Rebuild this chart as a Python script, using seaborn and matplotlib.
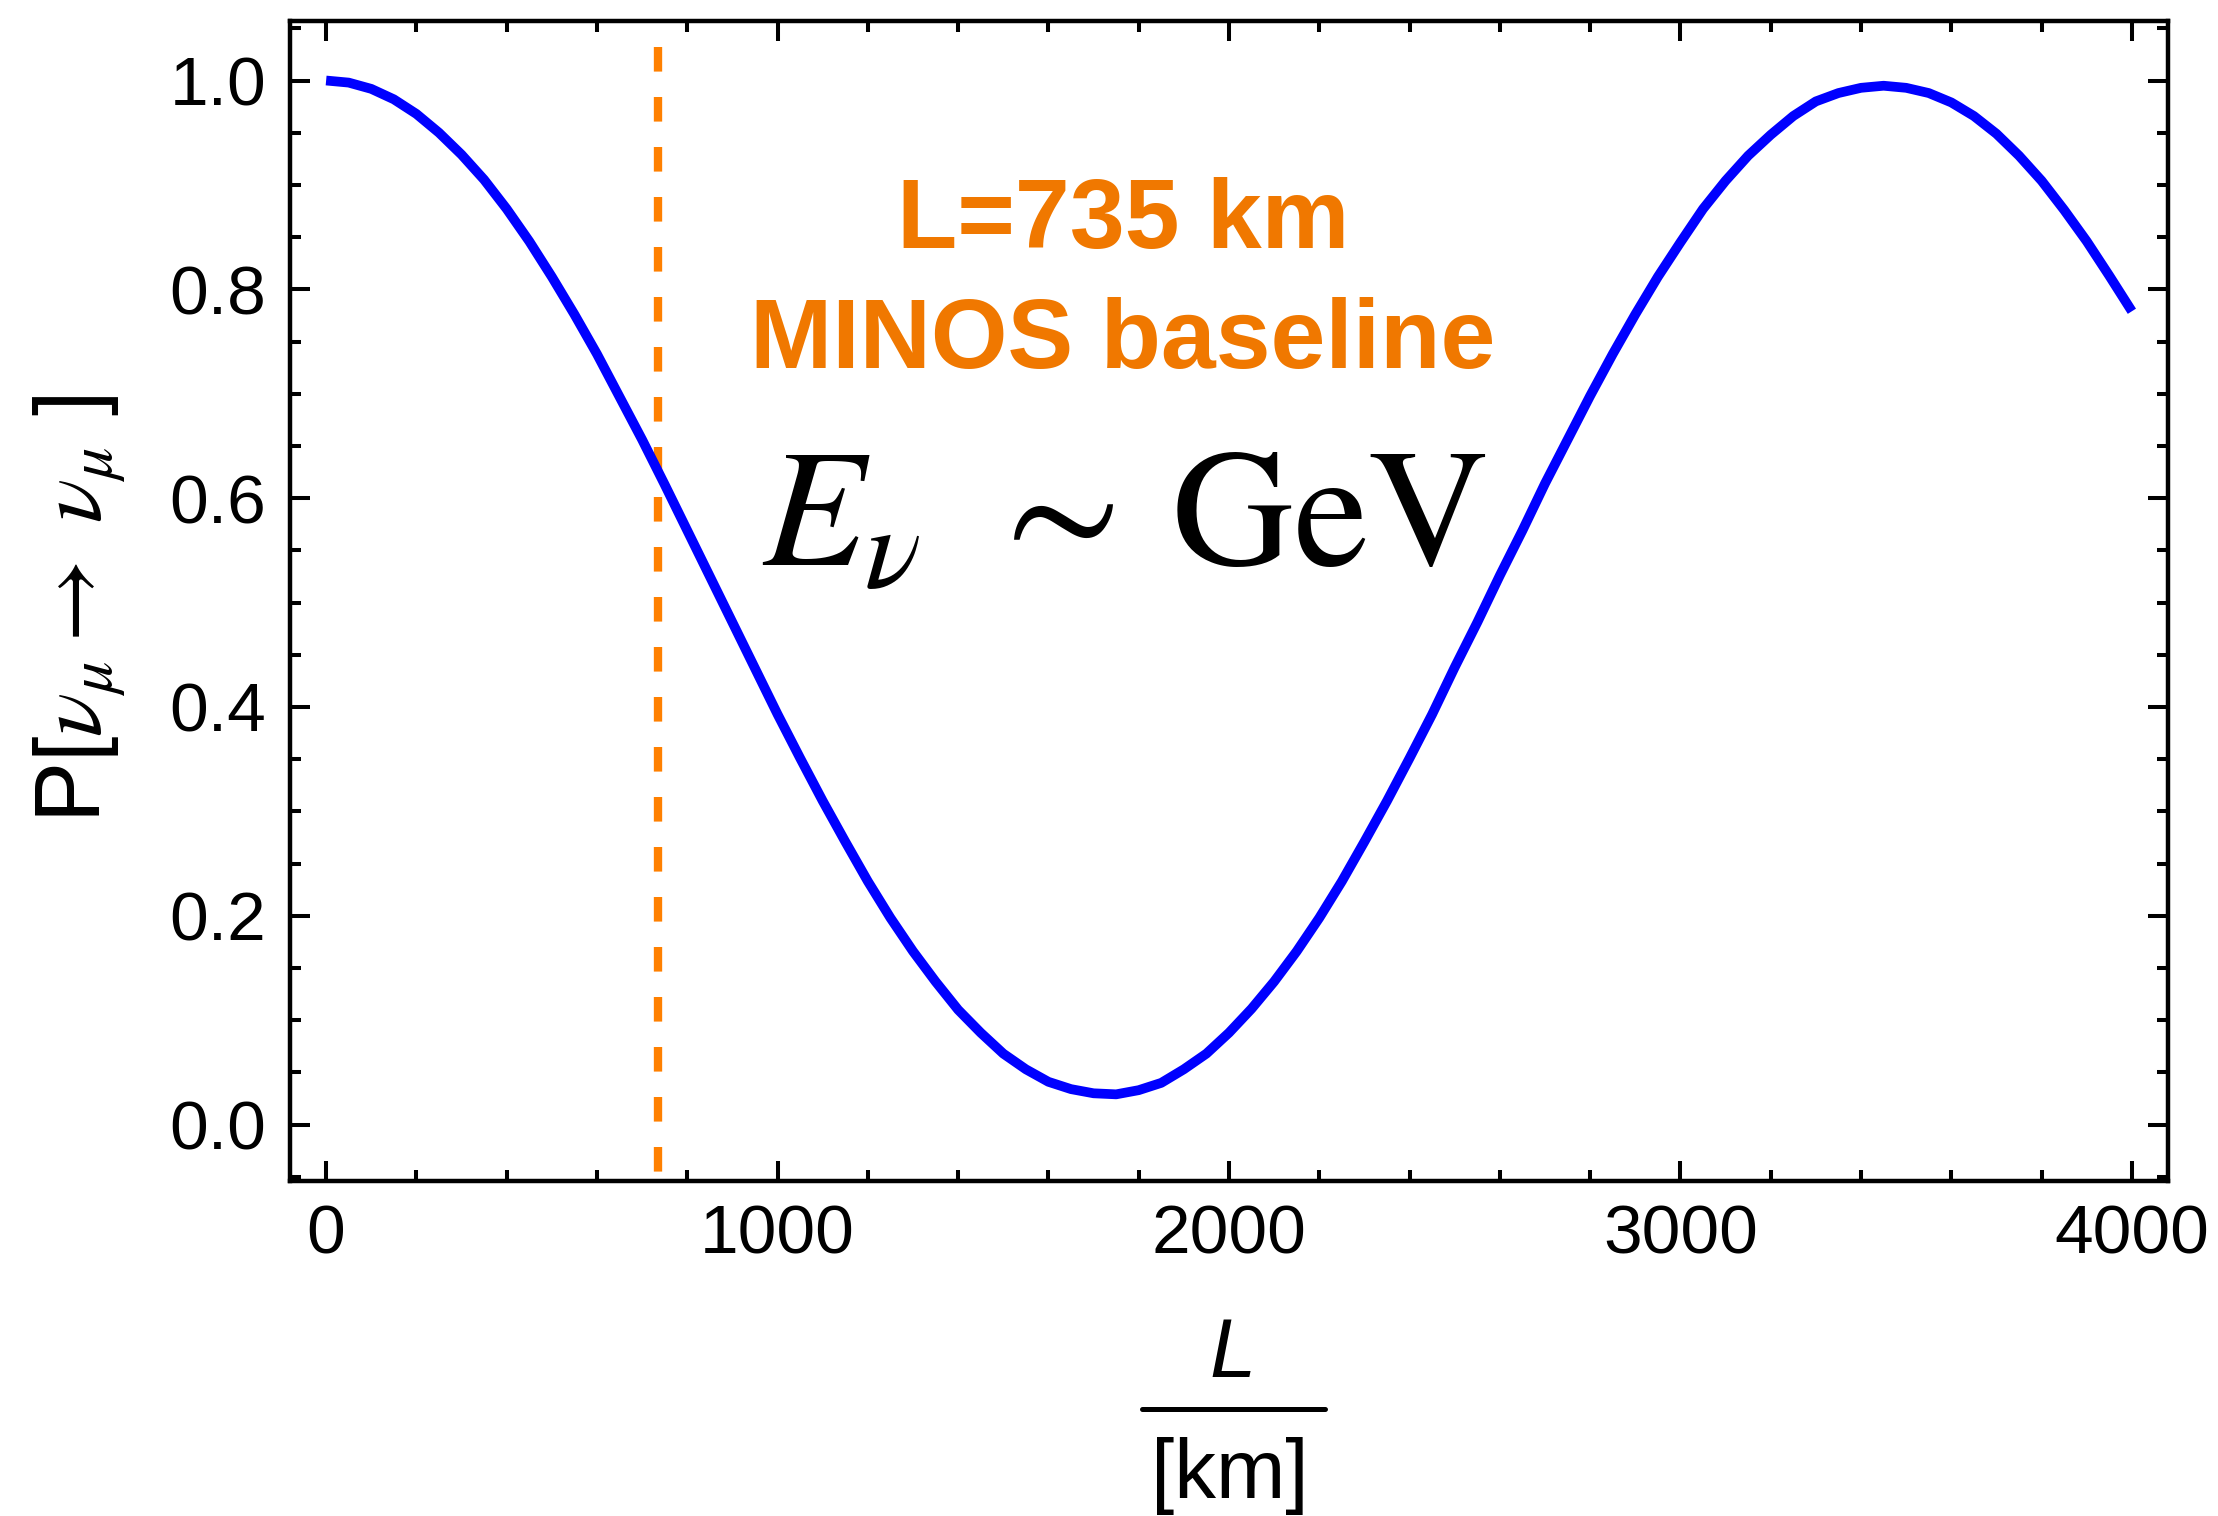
import numpy as np
import pandas as pd
import matplotlib
matplotlib.use("Agg")
import matplotlib.pyplot as plt
import seaborn as sns
from matplotlib.ticker import MultipleLocator
from matplotlib.lines import Line2D

# ---------------- data ----------------
baseline_km = [0, 50, 100, 150, 200, 250, 300, 350, 400, 450,
               500, 550, 600, 650, 700, 750, 800, 850, 900, 950,
               1000, 1050, 1100, 1150, 1200, 1250, 1300, 1350, 1400, 1450,
               1500, 1550, 1600, 1650, 1700, 1750, 1800, 1850, 1900, 1950,
               2000, 2050, 2100, 2150, 2200, 2250, 2300, 2350, 2400, 2450,
               2500, 2550, 2600, 2650, 2700, 2750, 2800, 2850, 2900, 2950,
               3000, 3050, 3100, 3150, 3200, 3250, 3300, 3350, 3400, 3450,
               3500, 3550, 3600, 3650, 3700, 3750, 3800, 3850, 3900, 3950, 4000]
survival_prob = [1.000, 0.998, 0.992, 0.982, 0.968, 0.950, 0.929, 0.905, 0.877, 0.846,
                 0.812, 0.776, 0.738, 0.697, 0.656, 0.613, 0.569, 0.525, 0.481, 0.437,
                 0.393, 0.351, 0.310, 0.271, 0.233, 0.198, 0.166, 0.137, 0.110, 0.088,
                 0.068, 0.053, 0.041, 0.034, 0.030, 0.029, 0.033, 0.040, 0.053, 0.068,
                 0.088, 0.111, 0.137, 0.166, 0.198, 0.233, 0.271, 0.310, 0.351, 0.393,
                 0.438, 0.481, 0.526, 0.569, 0.614, 0.656, 0.698, 0.738, 0.776, 0.812,
                 0.845, 0.877, 0.904, 0.928, 0.948, 0.966, 0.980, 0.988, 0.993, 0.995,
                 0.993, 0.988, 0.979, 0.966, 0.949, 0.928, 0.904, 0.876, 0.846, 0.813, 0.779]
minos_baseline = [735, 735]
minos_line_y = [1.032, -0.06]

x_major_ticks = [0, 1000, 2000, 3000, 4000]
x_tick_labels = ["0", "1000", "2000", "3000", "4000"]
y_major_ticks = [0.0, 0.2, 0.4, 0.6, 0.8, 1.0]
y_tick_labels = ["0.0", "0.2", "0.4", "0.6", "0.8", "1.0"]

df = pd.DataFrame({"L": baseline_km, "P": survival_prob})
df_minos = pd.DataFrame({"L": minos_baseline, "P": minos_line_y})

# ---------------- style ----------------
sns.set_theme(style="ticks")
plt.rcParams["font.family"] = ["Liberation Sans", "DejaVu Sans"]
plt.rcParams["mathtext.fontset"] = "stix"
plt.rcParams["text.color"] = "black"
plt.rcParams["xtick.color"] = "black"
plt.rcParams["ytick.color"] = "black"
plt.rcParams["xtick.labelcolor"] = "black"
plt.rcParams["ytick.labelcolor"] = "black"

W, H = 2218, 1516
fig = plt.figure(figsize=(W / 100, H / 100), dpi=100)
ax = fig.add_axes([290 / W, 1 - 1181 / H, (2168 - 290) / W, (1181 - 21) / H])

sns.lineplot(data=df, x="L", y="P", ax=ax, color=(0, 0, 1), linewidth=7.0,
             sort=False, estimator=None)
blue = ax.lines[-1]
blue.set_linewidth(7.0)
blue.set_solid_capstyle("butt")
blue.set_solid_joinstyle("round")

sns.lineplot(data=df_minos, x="L", y="P", ax=ax, color="#FF8000", linewidth=6.0,
             sort=False, estimator=None)
dash = ax.lines[-1]
dash.set_linewidth(6.0)
dash.set_linestyle((0, (2.95, 3.05)))
dash.set_dash_capstyle("butt")
dash.set_zorder(1.5)

ax.set_xlim(-80, 4080)
ax.set_ylim(-0.054, 1.057)

ax.set_xticks(x_major_ticks)
ax.set_xticklabels(x_tick_labels)
ax.xaxis.set_minor_locator(MultipleLocator(200))
ax.set_yticks(y_major_ticks)
ax.set_yticklabels(y_tick_labels)
ax.yaxis.set_minor_locator(MultipleLocator(0.05))

for s in ax.spines.values():
    s.set_visible(True)
    s.set_linewidth(3.2)
    s.set_color("black")

ax.tick_params(which="both", direction="in", top=True, right=True,
               color="black", width=2.9, labelcolor="black")
ax.tick_params(which="major", length=14.5)
ax.tick_params(which="minor", length=8)
ax.tick_params(axis="x", which="major", labelsize=50, pad=16)
ax.tick_params(axis="y", which="major", labelsize=50, pad=17)
ax.set_xlabel("")
ax.set_ylabel("")

# annotations
orange_txt = "#F07800"
ax.text(1765, 0.840, "L=735 km", color=orange_txt, fontsize=71,
        fontweight="bold", ha="center", va="baseline")
ax.text(1765, 0.725, "MINOS baseline", color=orange_txt, fontsize=71,
        fontweight="bold", ha="center", va="baseline")
ax.text(965, 0.535, r"$E_{\nu}\;\,\sim\:\mathrm{GeV}$", color="black",
        fontsize=121, ha="left", va="baseline", math_fontfamily="stix")

# y label
fig.text(79 / W, 1 - 609 / H, r"P[$\nu_{\mu}\rightarrow\ \nu_{\mu}$ ]",
         rotation=90, ha="center", va="center", fontsize=66, color="black",
         math_fontfamily="stix")

# x label as a fraction
fig.text(1233 / W, 1 - 1377 / H, "L", style="italic", fontsize=60,
         ha="center", va="baseline", color="black")
fig.add_artist(Line2D([1142 / W, 1325 / W], [1 - 1409 / H, 1 - 1409 / H],
                      transform=fig.transFigure, color="black", lw=3.6))
fig.text(1230 / W, 1 - 1498 / H, "[km]", fontsize=60,
         ha="center", va="baseline", color="black")

fig.savefig("out.png", dpi=100)
